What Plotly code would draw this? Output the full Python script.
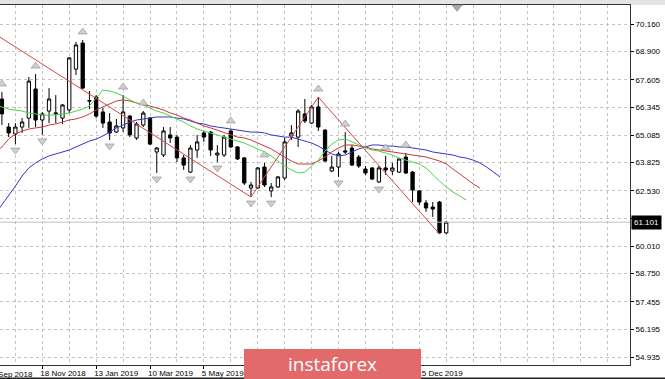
import pandas as pd
import plotly.graph_objects as go

# ---------------- data (weekly bars) ----------------
base_week = pd.Timestamp("2018-11-18")
first_bar = -6  # first bar is 6 weeks before 18 Nov 2018

opens = [66.73, 65.45, 65.13, 65.45, 65.86, 67.19, 65.77, 66.18, 66.05, 65.86, 66.23, 68.10, 69.29,
         66.66, 66.82, 66.14, 65.68, 65.22, 65.41, 65.95, 64.95, 65.54, 65.86, 64.31, 64.17, 65.09,
         64.99, 64.04, 63.39, 64.40, 65.18, 65.22, 64.17, 64.17, 65.27, 64.54, 64.04, 62.66, 62.66,
         63.62, 62.53, 62.71, 63.12, 65.04, 64.99, 66.05, 65.63, 66.37, 65.31, 63.44, 63.62, 64.36,
         64.49, 64.08, 63.53, 63.58, 62.94, 63.58, 63.44, 63.39, 64.08, 63.39, 62.53, 61.98, 61.79,
         62.02, 60.61]
highs = [67.05, 65.63, 65.63, 65.86, 67.74, 67.87, 66.14, 67.23, 66.91, 66.50, 68.65, 69.34, 69.43,
         67.10, 66.91, 66.32, 66.09, 65.82, 66.91, 66.00, 65.68, 66.18, 65.91, 64.54, 65.45, 65.45,
         65.09, 64.17, 64.63, 65.09, 65.27, 65.27, 64.63, 65.09, 65.36, 64.58, 64.08, 62.94, 63.62,
         63.81, 62.89, 63.21, 64.95, 65.54, 66.27, 66.73, 66.46, 66.82, 65.36, 64.13, 64.31, 65.22,
         64.63, 64.17, 63.67, 63.62, 63.67, 64.13, 63.81, 64.04, 64.26, 63.44, 62.57, 62.11, 62.02,
         62.07, 61.15]
lows = [65.54, 64.99, 64.67, 65.18, 65.41, 65.45, 65.09, 65.63, 65.63, 65.59, 66.09, 67.83, 67.19,
        66.27, 65.86, 65.41, 64.86, 65.18, 65.22, 64.99, 64.86, 65.45, 64.63, 63.35, 64.08, 64.72,
        63.85, 63.49, 63.35, 64.04, 64.77, 64.13, 63.85, 64.08, 64.49, 63.94, 62.80, 62.25, 62.62,
        62.71, 62.25, 62.66, 63.03, 64.86, 64.54, 65.63, 65.59, 65.27, 63.85, 63.39, 63.17, 64.22,
        63.67, 63.58, 63.26, 63.03, 62.89, 63.26, 63.26, 63.35, 63.30, 62.02, 61.89, 61.57, 61.34,
        60.56, 60.56]
closes = [66.05, 65.18, 65.45, 65.68, 67.55, 65.77, 66.05, 66.73, 66.09, 66.46, 68.61, 69.20, 67.23,
          66.64, 65.95, 65.63, 65.18, 65.50, 66.14, 65.09, 65.59, 66.09, 64.67, 64.49, 65.27, 64.95,
          64.04, 63.71, 64.49, 64.77, 64.99, 64.40, 64.26, 64.99, 64.54, 63.99, 62.89, 62.80, 63.58,
          62.80, 62.71, 63.17, 64.77, 65.18, 66.18, 65.73, 66.37, 65.45, 63.90, 63.62, 64.22, 64.31,
          63.71, 63.67, 63.35, 63.07, 63.58, 63.49, 63.58, 63.99, 63.35, 62.57, 62.02, 61.75, 61.70,
          60.61, 61.101]

# Alligator lines (shifted forward), values per week starting 7 weeks before 18 Nov 2018
ma_first = -7
lips_green = [66.41, 66.37, 66.27, 66.23, 66.18, 66.09, 66.05, 66.00, 66.00, 66.00, 66.05, 66.09,
              66.18, 66.27, 66.41, 66.78, 67.14, 67.10, 67.01, 66.87, 66.69, 66.55, 66.46, 66.32,
              66.18, 66.09, 65.95, 65.82, 65.68, 65.50, 65.36, 65.27, 65.18, 65.09, 64.99, 64.90,
              64.81, 64.72, 64.58, 64.45, 64.31, 64.13, 63.90, 63.67, 63.49, 63.35, 63.39, 63.67,
              63.94, 64.35, 64.67, 64.86, 64.90, 64.77, 64.63, 64.49, 64.40, 64.35, 64.26, 64.17,
              64.03, 63.94, 63.85, 63.76, 63.58, 63.26, 62.98, 62.71, 62.48, 62.30, 62.11]
teeth_red = [64.31, 64.54, 64.90, 65.13, 65.27, 65.36, 65.41, 65.45, 65.54, 65.59, 65.68, 65.77,
             65.82, 65.91, 66.05, 66.23, 66.37, 66.50, 66.64, 66.69, 66.64, 66.55, 66.46, 66.41,
             66.32, 66.23, 66.09, 66.00, 65.86, 65.77, 65.63, 65.50, 65.41, 65.31, 65.18, 65.09,
             64.99, 64.95, 64.86, 64.72, 64.58, 64.45, 64.26, 64.08, 63.90, 63.76, 63.76, 63.76,
             63.90, 64.08, 64.31, 64.49, 64.63, 64.63, 64.58, 64.54, 64.45, 64.40, 64.35, 64.31,
             64.26, 64.22, 64.17, 64.13, 64.08, 63.99, 63.90, 63.76, 63.53, 63.30, 63.07, 62.85,
             62.66]
jaw_blue = [61.47, 61.89, 62.34, 62.75, 63.21, 63.58, 63.81, 63.99, 64.13, 64.22, 64.31, 64.40,
            64.54, 64.67, 64.81, 64.90, 65.04, 65.22, 65.41, 65.54, 65.68, 65.77, 65.82, 65.86,
            65.91, 65.91, 65.91, 65.86, 65.82, 65.73, 65.63, 65.59, 65.50, 65.45, 65.41, 65.36,
            65.31, 65.27, 65.22, 65.22, 65.18, 65.09, 65.04, 64.99, 64.99, 64.90, 64.81, 64.72,
            64.58, 64.40, 64.22, 64.13, 64.17, 64.31, 64.45, 64.54, 64.63, 64.63, 64.58, 64.58,
            64.54, 64.54, 64.49, 64.45, 64.40, 64.31, 64.26, 64.22, 64.17, 64.08, 64.03, 63.94,
            63.81, 63.62, 63.39, 63.17]

# ZigZag pivots (week offset from 18 Nov 2018, price)
zigzag_weeks = [-9, 31, 41, 59]
zigzag_prices = [70.09, 62.25, 66.82, 60.56]

# Fractals (week offsets)
fractal_up_weeks = [-6, -1, 6, 12, 15, 28, 33, 41, 45, 51, 54]
fractal_down_weeks = [-4, 0, 10, 17, 22, 26, 31, 34, 44, 50]

last_price = 61.101
last_price_label = "61.101"

y_tick_values = [70.160, 68.900, 67.605, 66.345, 65.085, 63.825, 62.530, 61.270, 60.010,
                 58.750, 57.455, 56.195, 54.935]
y_tick_labels = ["70.160", "68.900", "67.605", "66.345", "65.085", "63.825", "62.530", "61.270",
                 "60.010", "58.750", "57.455", "56.195", "54.935"]
x_tick_dates = ["2018-09-23", "2018-11-18", "2019-01-13", "2019-03-10", "2019-05-05",
                "2019-06-30", "2019-08-25", "2019-10-20", "2019-12-15"]
x_tick_labels = ["23 Sep 2018", "18 Nov 2018", "13 Jan 2019", "10 Mar 2019", "5 May 2019",
                 "30 Jun 2019", "25 Aug 2019", "20 Oct 2019", "15 Dec 2019"]

# ---------------- helpers ----------------
def week_date(k):
    return base_week + pd.Timedelta(days=7 * k)

bar_dates = [week_date(first_bar + i) for i in range(len(opens))]
def ma_dates(values):
    return [week_date(ma_first + i) for i in range(len(values))]

PLOT_W, PLOT_H = 630, 360
x_start = week_date(-6.285)
x_end = week_date(87.3)
y_range = [54.571, 71.029]
px_price = (y_range[1] - y_range[0]) / PLOT_H

FONT = "Liberation Sans"
GRID = "#c4c4c4"

fig = go.Figure()

# last price line
fig.add_trace(go.Scatter(x=[x_start, x_end], y=[last_price, last_price], mode="lines",
                         line=dict(color="#c0c0c0", width=1), hoverinfo="skip", showlegend=False))

# alligator
fig.add_trace(go.Scatter(x=ma_dates(jaw_blue), y=jaw_blue, mode="lines",
                         line=dict(color="#3535c8", width=1), showlegend=False))
fig.add_trace(go.Scatter(x=ma_dates(teeth_red), y=teeth_red, mode="lines",
                         line=dict(color="#c83a3a", width=1), showlegend=False))
fig.add_trace(go.Scatter(x=ma_dates(lips_green), y=lips_green, mode="lines",
                         line=dict(color="#4cd44c", width=1), showlegend=False))

# zigzag
fig.add_trace(go.Scatter(x=[week_date(k) for k in zigzag_weeks], y=zigzag_prices, mode="lines",
                         line=dict(color="#d04848", width=1), showlegend=False))

# candles
fig.add_trace(go.Candlestick(
    x=bar_dates, open=opens, high=highs, low=lows, close=closes,
    increasing=dict(line=dict(color="#000000", width=1), fillcolor="#ffffff"),
    decreasing=dict(line=dict(color="#000000", width=1), fillcolor="#000000"),
    whiskerwidth=0, showlegend=False))

# fractals
idx_up = [k - first_bar for k in fractal_up_weeks]
idx_dn = [k - first_bar for k in fractal_down_weeks]
fig.add_trace(go.Scatter(
    x=[bar_dates[i] for i in idx_up], y=[highs[i] + 8 * px_price for i in idx_up],
    mode="markers", marker=dict(symbol="triangle-up", size=8, color="#cfcfcf",
                                line=dict(color="#8c8c8c", width=0.6)),
    showlegend=False))
fig.add_trace(go.Scatter(
    x=[bar_dates[i] for i in idx_dn], y=[lows[i] - 6 * px_price for i in idx_dn],
    mode="markers", marker=dict(symbol="triangle-down", size=8, color="#cfcfcf",
                                line=dict(color="#8c8c8c", width=0.6)),
    showlegend=False))

minor_grid = list(pd.date_range("2018-09-23", "2020-08-30", freq="28D"))

fig.update_layout(
    width=665, height=379,
    margin=dict(l=0, r=35, t=5, b=14, autoexpand=False),
    paper_bgcolor="#ffffff", plot_bgcolor="#ffffff",
    showlegend=False,
    font=dict(family=FONT, size=8, color="#000000"),
    xaxis=dict(
        type="date", range=[x_start, x_end], rangeslider=dict(visible=False),
        tickmode="array", tickvals=x_tick_dates, ticktext=x_tick_labels, tickangle=0,
        automargin=False, ticklabelshift=-3,
        ticklabelposition="outside right", ticks="outside", ticklen=3, tickcolor="#000",
        showgrid=True, gridcolor=GRID, griddash="3px,3px", gridwidth=1,
        minor=dict(tickmode="array", tickvals=minor_grid, showgrid=True, gridcolor=GRID,
                   griddash="3px,3px", ticks=""),
        showline=True, linecolor="#333333", linewidth=1, mirror=True,
        tickfont=dict(family=FONT, size=8), zeroline=False,
    ),
    yaxis=dict(
        range=y_range, side="right", automargin=False,
        tickmode="array", tickvals=y_tick_values, ticktext=y_tick_labels,
        ticks="outside", ticklen=3, tickcolor="#000",
        showgrid=True, gridcolor=GRID, griddash="3px,3px", gridwidth=1,
        showline=True, linecolor="#333333", linewidth=1,
        tickfont=dict(family=FONT, size=8), zeroline=False,
    ),
)

# top window strip, bottom dark edge, chart-shift marker
fig.add_shape(type="rect", xref="paper", yref="paper", x0=-0.01, x1=1.06, y0=1.0, y1=1.02,
              fillcolor="#e4e4e4", line=dict(width=0), layer="below")
fig.add_shape(type="line", xref="paper", yref="paper", x0=-0.01, x1=1.06,
              y0=-13.5 / PLOT_H, y1=-13.5 / PLOT_H, line=dict(color="#202020", width=2))
fig.add_shape(type="path", xref="paper", yref="paper",
              path="M 0.717 1.0 L 0.734 1.0 L 0.7255 0.982 Z",
              fillcolor="#a8a8a8", line=dict(color="#909090", width=0.5))

# current price tag
fig.add_annotation(xref="paper", yref="y", x=1.0, y=last_price, xanchor="left", yanchor="middle",
                   xshift=1, text=last_price_label, showarrow=False, bgcolor="#000000",
                   font=dict(family=FONT, size=8, color="#ffffff"), borderpad=2)

# clipped first date label
span = (x_end - x_start)
first_label_x = (pd.Timestamp(x_tick_dates[0]) - x_start) / span
fig.add_annotation(xref="paper", yref="paper", x=first_label_x, y=0, yshift=-3, xshift=-3,
                   xanchor="left", yanchor="top", text=x_tick_labels[0], showarrow=False,
                   font=dict(family=FONT, size=8, color="#000000"))

# watermark box
fig.add_shape(type="rect", xref="paper", yref="paper", x0=244 / PLOT_W, x1=421 / PLOT_W,
              y0=-14.5 / PLOT_H, y1=16 / PLOT_H, fillcolor="#e26a6a", line=dict(width=0))
fig.add_annotation(xref="paper", yref="paper", x=332.5 / PLOT_W, y=1 / PLOT_H, text="instaforex",
                   showarrow=False, xanchor="center", yanchor="middle",
                   font=dict(family="Open Sans", size=19, color="#ffffff"))

fig.write_html("out.html")
